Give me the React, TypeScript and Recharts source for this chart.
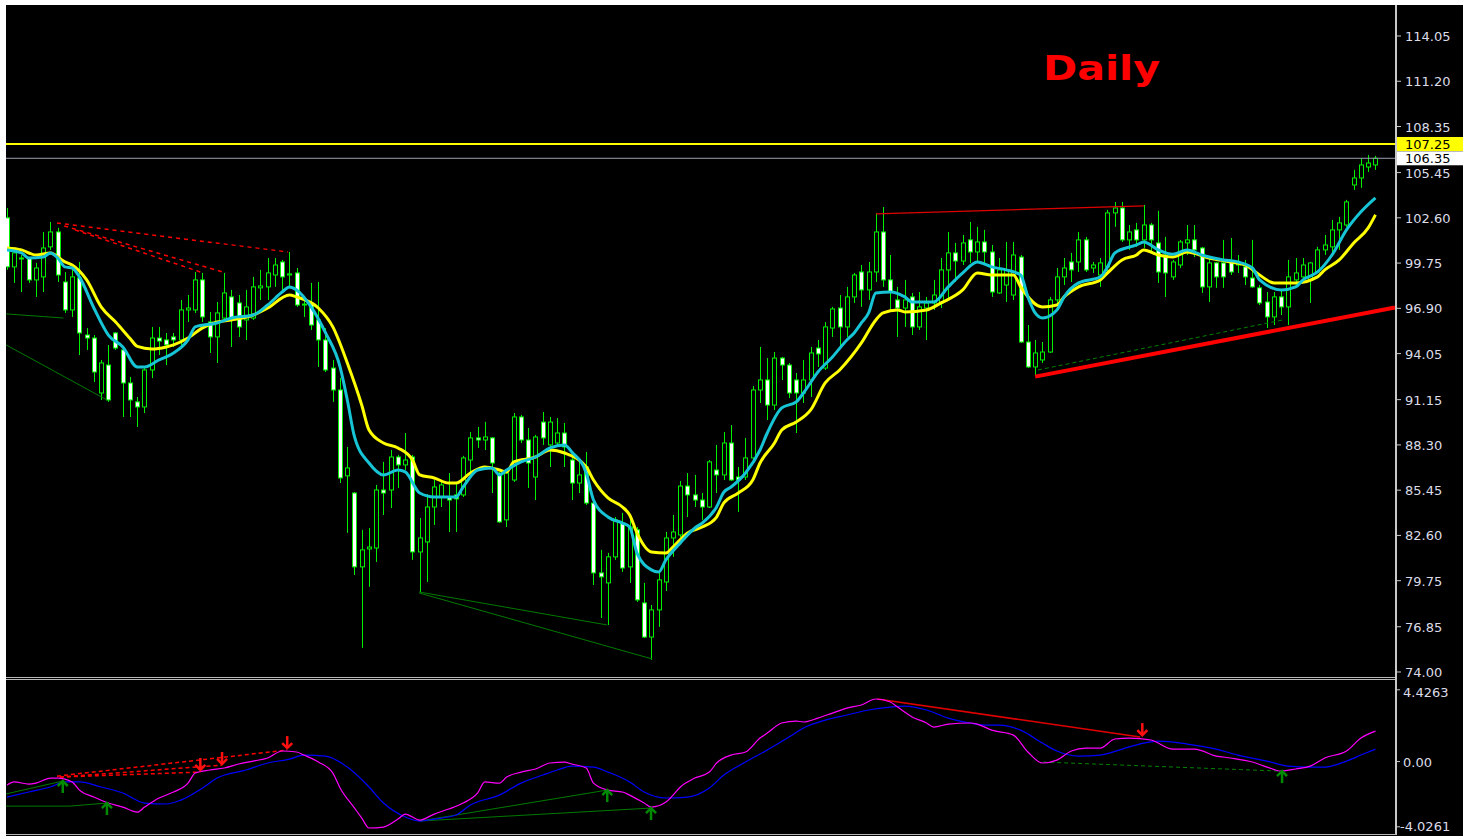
import React from "react";
import { ComposedChart, Bar, Line, XAxis, YAxis, ReferenceLine, ReferenceDot } from "recharts";

// Daily candles, oldest first
const opens = [
  102.6, 99.51, 100.07, 100.07, 98.69, 98.88, 100.77, 101.71, 98.56, 96.8,
  98.81, 95.22, 95.03, 91.57, 93.33, 95.35, 94.28, 92.2, 91.01, 90.69,
  93.02, 95.03, 94.91, 95.1, 94.91, 96.8, 96.8, 98.69, 96.04, 95.1,
  96.29, 97.62, 97.24, 96.17, 96.29, 98.19, 98.25, 99.0, 99.82, 99.0,
  99.13, 97.11, 97.24, 96.17, 94.91, 93.14, 91.76, 86.35, 85.27, 80.62,
  81.75, 81.81, 85.46, 85.46, 87.54, 87.04, 87.54, 81.56, 82.19, 84.39,
  85.02, 85.02, 85.15, 85.15, 87.35, 88.74, 88.61, 88.74, 86.53, 83.58,
  86.09, 90.06, 88.61, 86.28, 89.74, 88.3, 88.42, 89.05, 87.35, 85.9,
  86.91, 84.64, 80.24, 79.61, 81.25, 83.39, 80.62, 82.95, 78.35, 76.2,
  77.91, 79.67, 82.44, 82.63, 85.71, 85.15, 84.83, 84.39, 86.72, 86.41,
  88.42, 86.28, 86.28, 87.48, 91.76, 92.39, 90.81, 93.77, 93.33, 92.39,
  91.57, 92.39, 94.4, 93.14, 95.66, 96.92, 95.73, 97.62, 99.19, 98.06,
  99.19, 101.71, 98.69, 97.43, 96.92, 97.62, 95.73, 96.92, 97.24, 97.24,
  99.32, 100.39, 99.88, 101.21, 100.45, 101.08, 100.45, 97.87, 98.37, 97.74,
  100.13, 94.78, 93.21, 93.65, 94.15, 97.43, 98.88, 99.82, 99.82, 101.21,
  99.44, 99.0, 99.51, 102.91, 103.22, 101.21, 101.84, 101.21, 102.15, 101.02,
  100.26, 98.88, 99.63, 101.02, 101.21, 100.7, 98.25, 99.76, 99.76, 99.82,
  99.63, 99.51, 98.81, 98.19, 97.3, 96.36, 97.62, 96.99, 98.69, 98.88,
  98.69, 99.19, 100.58, 100.77, 101.84, 102.15, 104.67, 105.11, 105.8, 105.93,
];
const highs = [
  103.22, 100.58, 100.26, 100.13, 99.76, 101.71, 102.34, 101.97, 99.19, 99.44,
  99.82, 95.66, 95.22, 93.65, 94.59, 95.41, 94.47, 92.58, 91.32, 93.14,
  95.73, 95.73, 95.35, 95.35, 97.43, 97.74, 99.19, 99.13, 96.67, 97.3,
  99.13, 98.06, 97.74, 98.06, 98.88, 99.32, 100.07, 100.07, 99.95, 100.45,
  99.44, 97.43, 98.5, 98.56, 95.66, 93.65, 92.52, 88.17, 85.33, 82.95,
  83.07, 85.78, 87.23, 87.98, 87.67, 89.05, 87.67, 83.7, 85.2, 86.09,
  85.97, 86.53, 85.9, 87.61, 89.11, 89.43, 89.75, 88.8, 86.6, 86.72,
  90.31, 90.19, 89.36, 88.93, 90.37, 90.06, 89.99, 89.68, 87.79, 87.35,
  87.86, 84.83, 81.69, 81.5, 83.76, 84.02, 83.76, 83.13, 79.61, 78.22,
  80.24, 82.82, 83.89, 86.03, 86.53, 86.41, 85.27, 87.35, 88.3, 89.11,
  89.55, 86.91, 88.74, 92.01, 94.47, 93.77, 94.15, 93.84, 93.46, 92.83,
  93.65, 94.47, 94.91, 96.04, 96.99, 97.74, 98.25, 99.13, 99.63, 99.82,
  102.91, 103.28, 100.26, 98.25, 98.69, 97.87, 97.93, 97.62, 98.69, 100.07,
  101.71, 101.02, 101.52, 102.34, 102.03, 101.84, 100.89, 100.07, 101.08, 101.08,
  100.26, 95.85, 94.91, 94.78, 97.62, 99.44, 100.07, 100.39, 101.71, 101.4,
  99.82, 100.07, 103.1, 103.6, 103.6, 102.15, 102.28, 103.41, 102.28, 103.04,
  101.4, 99.95, 101.21, 102.15, 102.15, 100.77, 100.13, 99.82, 101.21, 101.33,
  100.26, 99.95, 101.21, 98.37, 97.93, 97.93, 98.06, 99.95, 100.07, 100.07,
  99.82, 100.77, 101.52, 102.47, 102.66, 103.73, 105.62, 106.37, 106.56, 106.5,
];
const lows = [
  99.32, 98.5, 97.93, 98.5, 97.62, 97.93, 100.58, 98.56, 96.61, 96.36,
  93.96, 94.28, 92.26, 91.13, 91.01, 94.28, 90.06, 90.06, 89.43, 90.31,
  92.51, 93.96, 93.33, 94.47, 94.47, 96.04, 96.61, 96.04, 94.09, 93.46,
  96.04, 94.47, 95.1, 94.91, 96.17, 97.43, 97.43, 98.25, 97.87, 98.25,
  96.99, 96.36, 95.54, 93.21, 92.89, 91.01, 85.9, 82.76, 80.11, 75.52,
  79.36, 80.93, 83.89, 84.33, 85.59, 86.72, 81.06, 79.04, 79.67, 83.26,
  84.39, 82.82, 82.82, 85.02, 86.53, 88.11, 87.98, 85.27, 83.39, 83.13,
  85.97, 88.42, 85.59, 84.83, 88.3, 86.91, 88.17, 86.91, 84.83, 85.27,
  84.52, 79.48, 77.4, 76.96, 81.06, 80.3, 79.61, 78.41, 76.14, 74.76,
  76.84, 79.1, 81.25, 82.5, 83.76, 84.39, 83.58, 84.33, 85.27, 86.09,
  86.03, 84.08, 86.09, 87.35, 90.94, 89.87, 90.5, 92.39, 91.25, 89.05,
  90.94, 91.32, 93.21, 93.02, 95.1, 94.47, 95.1, 97.24, 96.99, 97.43,
  98.56, 98.25, 96.8, 95.1, 95.73, 95.22, 95.54, 94.91, 96.8, 96.92,
  97.43, 98.56, 99.63, 99.76, 99.82, 99.76, 97.62, 97.81, 97.3, 97.43,
  94.72, 93.14, 92.64, 93.46, 94.09, 97.11, 98.37, 98.56, 99.19, 99.19,
  99.13, 98.25, 99.0, 102.03, 101.08, 100.58, 100.77, 100.7, 100.39, 98.5,
  97.62, 98.69, 99.44, 100.26, 100.13, 97.87, 97.3, 98.19, 98.19, 99.0,
  99.13, 98.37, 98.19, 97.11, 95.66, 95.85, 96.48, 95.85, 98.37, 98.69,
  97.24, 99.13, 100.26, 100.45, 100.58, 102.03, 104.36, 104.49, 105.49, 105.62,
];
const closes = [
  99.51, 100.39, 100.01, 98.69, 99.44, 100.7, 101.71, 99.0, 96.8, 98.88,
  95.35, 95.03, 92.89, 93.46, 91.13, 94.4, 92.2, 91.13, 90.69, 93.02,
  95.03, 94.84, 94.6, 94.91, 96.8, 96.92, 98.69, 96.36, 95.1, 96.61,
  97.87, 96.29, 95.73, 96.99, 98.25, 98.31, 99.13, 99.63, 98.88, 99.07,
  97.11, 97.17, 95.85, 94.91, 93.02, 91.76, 86.22, 86.85, 80.62, 81.69,
  81.87, 85.46, 85.27, 87.54, 87.04, 87.35, 81.56, 82.44, 84.39, 85.65,
  85.78, 84.83, 84.9, 87.48, 88.74, 88.61, 88.8, 87.16, 83.45, 86.53,
  90.06, 88.61, 87.16, 88.8, 88.74, 89.74, 89.05, 88.17, 85.9, 86.41,
  84.64, 80.24, 79.99, 81.25, 83.58, 80.55, 83.13, 78.54, 76.2, 77.91,
  79.8, 82.44, 82.82, 85.71, 85.15, 84.83, 84.39, 87.23, 86.41, 88.42,
  86.09, 86.09, 87.48, 91.76, 92.39, 90.81, 93.77, 93.33, 91.57, 91.57,
  92.39, 94.09, 94.03, 95.73, 96.86, 95.73, 97.62, 99.0, 98.06, 99.19,
  101.71, 98.69, 97.93, 96.92, 97.43, 95.73, 96.99, 97.24, 97.74, 99.32,
  100.39, 99.88, 101.02, 100.45, 101.08, 100.45, 97.93, 99.32, 99.32, 100.26,
  94.78, 93.21, 94.09, 94.15, 97.43, 98.88, 99.44, 99.32, 101.21, 99.32,
  99.63, 99.76, 102.91, 103.22, 101.21, 101.71, 101.21, 102.15, 101.21, 99.19,
  99.13, 99.82, 101.08, 101.21, 100.58, 98.25, 99.76, 98.88, 98.88, 99.19,
  99.76, 98.88, 98.25, 97.24, 96.36, 97.62, 96.99, 98.88, 99.13, 99.63,
  99.76, 100.58, 100.89, 101.84, 102.28, 103.6, 105.11, 105.93, 106.05, 106.35,
];

// moving averages, [bar, price]
const fastMA = [
  [0, 100.58], [2, 100.39], [3, 100.07], [5, 100.13], [6, 100.39], [7, 100.07], [8, 99.51], [9, 99.44],
  [10, 98.88], [12, 96.92], [14, 95.22], [16, 94.47], [18, 93.21], [19, 93.21], [21, 93.65], [22, 93.84],
  [23, 94.09], [25, 94.91], [26, 95.73], [29, 95.98], [31, 96.29], [34, 96.48], [36, 97.11], [38, 97.93],
  [39, 98.25], [40, 98.06], [42, 96.99], [44, 95.35], [46, 93.21], [47, 91.13], [48, 88.8], [50, 87.16],
  [52, 86.41], [54, 86.72], [55, 86.6], [57, 85.27], [59, 85.02], [62, 85.02], [63, 85.65], [65, 86.72],
  [67, 86.85], [68, 86.41], [69, 86.72], [71, 87.23], [73, 87.54], [75, 88.11], [77, 88.3], [78, 87.86],
  [80, 86.53], [81, 84.83], [83, 83.76], [85, 83.38], [86, 83.13], [87, 81.5], [89, 80.43], [90, 80.3],
  [91, 81.06], [93, 82.13], [95, 83.07], [96, 83.38], [98, 84.39], [99, 85.33], [100, 85.65], [102, 86.53],
  [104, 87.98], [105, 89.05], [107, 90.63], [109, 91.01], [110, 91.57], [112, 92.89], [114, 93.84], [116, 94.91],
  [117, 95.35], [118, 95.98], [119, 96.61], [120, 97.87], [122, 97.93], [124, 97.62], [125, 97.3], [128, 97.3],
  [130, 98.25], [132, 99.13], [134, 99.82], [136, 99.51], [138, 99.32], [140, 99.0], [141, 97.62], [142, 96.61],
  [143, 96.29], [145, 96.8], [146, 97.62], [148, 98.5], [151, 98.88], [152, 99.51], [153, 100.39], [156, 100.89],
  [157, 101.08], [159, 100.58], [161, 100.3], [163, 100.58], [165, 100.26], [168, 99.95], [170, 99.82], [172, 99.44],
  [173, 98.69], [176, 98.06], [178, 98.25], [179, 98.69], [181, 99.19], [183, 100.26], [185, 101.84], [187, 102.98],
  [189, 103.86],
];
const slowMA = [
  [0, 100.7], [2, 100.58], [4, 100.26], [6, 100.39], [8, 99.82], [9, 99.63], [11, 98.69], [13, 96.99],
  [15, 96.04], [17, 95.0], [18, 94.5], [20, 94.34], [22, 94.47], [23, 94.6], [25, 95.03], [27, 95.67],
  [29, 96.04], [31, 96.17], [34, 96.48], [36, 96.92], [39, 97.74], [40, 97.62], [43, 96.92], [45, 95.73],
  [47, 93.46], [49, 90.8], [50, 89.24], [52, 88.42], [54, 88.11], [56, 87.35], [57, 86.41], [59, 86.22],
  [61, 85.9], [62, 85.9], [64, 86.53], [66, 86.91], [68, 86.72], [69, 86.6], [70, 87.23], [73, 87.54],
  [75, 87.98], [77, 87.79], [80, 86.91], [81, 86.09], [83, 84.96], [85, 84.39], [86, 83.89], [87, 82.76],
  [89, 81.56], [91, 81.5], [92, 81.88], [94, 82.76], [96, 83.13], [98, 83.76], [99, 84.65], [101, 85.27],
  [103, 86.09], [104, 87.16], [106, 88.42], [107, 89.24], [109, 89.74], [111, 90.5], [113, 92.2], [115, 93.02],
  [118, 94.72], [120, 96.17], [121, 96.61], [123, 96.8], [124, 96.67], [127, 96.8], [129, 97.24], [132, 98.06],
  [134, 99.13], [136, 99.0], [139, 99.0], [140, 98.25], [143, 96.99], [145, 97.11], [146, 97.62], [148, 98.25],
  [151, 98.69], [152, 99.13], [154, 99.95], [156, 100.26], [157, 100.58], [159, 100.26], [161, 100.13], [163, 100.45],
  [166, 100.07], [169, 99.82], [171, 99.63], [173, 99.0], [175, 98.5], [178, 98.5], [181, 98.88], [182, 99.32],
  [184, 99.95], [186, 101.02], [188, 101.97], [189, 102.79],
];

// oscillator pane, [bar, value]
const oscMain = [
  [0, -1.45], [1, -1.26], [3, -1.39], [4, -1.33], [6, -1.02], [7, -1.02], [9, -1.26], [10, -1.76],
  [12, -2.19], [14, -2.56], [16, -2.81], [18, -3.12], [19, -2.81], [21, -2.25], [23, -1.88], [25, -1.33],
  [26, -0.71], [28, -0.52], [30, -0.4], [32, -0.15], [34, 0.03], [36, 0.22], [38, 0.65], [40, 0.59],
  [41, 0.4], [43, -0.03], [45, -0.71], [46, -1.63], [48, -2.87], [49, -3.49], [50, -4.1], [52, -4.04],
  [54, -3.55], [55, -3.24], [57, -3.61], [59, -3.24], [61, -2.93], [63, -2.56], [65, -1.94], [66, -1.26],
  [68, -1.33], [69, -0.96], [71, -0.65], [73, -0.46], [75, -0.09], [77, -0.03], [78, -0.15], [80, -0.4],
  [81, -1.33], [83, -1.76], [85, -1.88], [86, -2.07], [88, -2.56], [89, -2.81], [91, -2.5], [92, -2.07],
  [93, -1.57], [95, -1.02], [97, -0.65], [98, -0.09], [100, 0.4], [102, 0.59], [104, 1.45], [105, 1.76],
  [107, 2.38], [109, 2.5], [110, 2.44], [112, 2.68], [114, 2.99], [116, 3.3], [118, 3.49], [120, 3.86],
  [122, 3.67], [123, 3.36], [125, 2.75], [127, 2.38], [128, 2.13], [130, 2.31], [133, 2.38], [134, 2.31],
  [136, 1.94], [139, 1.63], [141, 0.59], [143, -0.09], [145, 0.09], [147, 0.65], [149, 0.83], [151, 0.83],
  [153, 1.39], [155, 1.45], [158, 1.33], [161, 0.77], [164, 0.77], [167, 0.34], [169, 0.22], [172, -0.03],
  [174, -0.34], [176, -0.59], [178, -0.46], [180, -0.28], [182, 0.22], [185, 0.65], [187, 1.45], [189, 1.88],
];
const oscSignal = [
  [0, -2.19], [3, -1.88], [6, -1.57], [8, -1.26], [10, -1.26], [13, -1.57], [16, -1.94], [19, -2.56],
  [22, -2.62], [24, -2.38], [27, -1.63], [29, -1.02], [33, -0.52], [36, -0.09], [39, 0.15], [41, 0.4],
  [44, 0.34], [47, -0.34], [50, -1.57], [52, -2.56], [55, -3.42], [57, -3.67], [59, -3.55], [62, -3.3],
  [64, -2.68], [68, -2.07], [71, -1.33], [74, -0.83], [76, -0.52], [78, -0.28], [81, -0.34], [83, -0.65],
  [86, -1.26], [88, -1.88], [91, -2.25], [94, -2.19], [97, -1.63], [99, -0.83], [102, -0.03], [105, 0.71],
  [108, 1.51], [110, 2.07], [113, 2.56], [116, 2.87], [119, 3.18], [122, 3.36], [124, 3.42], [127, 3.18],
  [130, 2.68], [133, 2.38], [135, 2.25], [137, 2.25], [140, 1.94], [143, 1.14], [145, 0.65], [148, 0.34],
  [151, 0.4], [154, 0.77], [157, 1.14], [159, 1.26], [163, 1.08], [167, 0.77], [170, 0.4], [174, 0.03],
  [177, -0.28], [180, -0.34], [182, -0.34], [185, 0.03], [187, 0.4], [189, 0.77],
];

const priceTicks = [114.05, 111.2, 108.35, 105.45, 102.6, 99.75, 96.9, 94.05, 91.15, 88.3, 85.45, 82.6, 79.75, 76.85, 74.0];
const askPrice = 107.25;
const bidPrice = 106.35;
const oscTicks = [4.4263, 0, -4.0261];
const oscLabels = ["4.4263", "0.00", "-4.0261"];

// drawn objects on the price pane: [bar, price] end points
const supportLine = [[142, 92.6], [191.7, 96.95]];
const resistanceLine = [[120, 102.85], [157, 103.35]];
const greenDashPrice = [[142.4, 93.02], [176.2, 96.17]];
const greenPrice = [
  [[-0.14, 96.55], [7.8, 96.29]],
  [[-0.14, 94.6], [13.8, 91.13]],
  [[56.9, 79.04], [82.9, 76.96]],
  [[56.9, 78.98], [89.1, 74.82]],
];
const redDashPrice = [
  [[6.9, 102.28], [38.8, 100.45]],
  [[7.9, 102.09], [29.8, 99.19]],
  [[9.4, 101.84], [26.7, 99.19]],
];
// drawn objects on the oscillator pane
const greenOsc = [
  [[-0.14, -2.0], [7.7, -1.2]],
  [[-0.14, -2.75], [8.7, -2.75]],
  [[8.7, -2.75], [13.8, -2.56]],
  [[57, -3.67], [82.9, -1.76]],
  [[57, -3.67], [88.95, -2.87]],
];
const redOsc = [[120.2, 3.86], [156.5, 1.51]];
const greenDashOsc = [[143.1, -0.03], [175.8, -0.59]];
const redDashOsc = [
  [[7.3, -0.96], [26.7, -0.65]],
  [[7.3, -0.96], [29.7, -0.22]],
  [[6.9, -0.9], [38.7, 0.71]],
];
const upArrows = [[7.7, -1.2], [13.8, -2.56], [82.9, -1.76], [88.95, -2.87], [176.1, -0.59]];
const downArrows = [[26.7, -0.52], [29.7, -0.15], [38.7, 0.83], [156.8, 1.63]];

const X_DOMAIN: [number, number] = [-0.14, 191.7];

const priceRows = opens.map((o, i) => ({
  i, o, h: highs[i], l: lows[i], c: closes[i],
  range: [lows[i], highs[i]],
  fast: null as number | null,
  slow: null as number | null,
}));
fastMA.forEach(([i, v]) => { priceRows[i].fast = v; });
slowMA.forEach(([i, v]) => { priceRows[i].slow = v; });

const oscRows = opens.map((_, i) => ({ i, main: null as number | null, signal: null as number | null }));
oscMain.forEach(([i, v]) => { oscRows[i].main = v; });
oscSignal.forEach(([i, v]) => { oscRows[i].signal = v; });

const FONT = "'DejaVu Sans', Tahoma, sans-serif";

function Candle(props: any) {
  const { x, y, width, height } = props;
  const d = props.payload ?? props;
  if (d == null || d.h == null) return null;
  const top = Math.min(y, y + height);
  const span = Math.abs(height);
  const py = (v: number) => top + ((d.h - v) / (d.h - d.l || 1)) * span;
  const cx = Math.round(x + width / 2) + 0.5;
  const bTop = py(Math.max(d.o, d.c));
  const bBot = py(Math.min(d.o, d.c));
  const bull = d.c >= d.o;
  return (
    <g>
      <line x1={cx} x2={cx} y1={top} y2={top + span} stroke="#00f000" strokeWidth={1} />
      <rect x={cx - 2} y={bTop} width={4} height={Math.max(1, bBot - bTop)}
        fill={bull ? "#000" : "#ffffff"} stroke="#00f000" strokeWidth={1} />
    </g>
  );
}

function PriceTick(p: any) {
  const v = p.payload.value;
  const x = p.x;
  const y = p.y;
  if (v === askPrice || v === bidPrice) {
    const bg = v === askPrice ? "#ffff00" : "#ffffff";
    return (
      <g>
        <rect x={x + 1} y={y - 7} width={67} height={14} fill={bg} />
        <text x={x + 10} y={y + 5} fill="#000" fontSize={13} fontFamily={FONT}>{v.toFixed(2)}</text>
      </g>
    );
  }
  return (
    <g>
      <line x1={x + 2} x2={x + 6} y1={y} y2={y} stroke="#c8c8d0" />
      <text x={x + 10} y={y + 5} fill="#dcdce8" fontSize={13} fontFamily={FONT}>{v.toFixed(2)}</text>
    </g>
  );
}

function OscTick(p: any) {
  const v = p.payload.value;
  const k = oscTicks.indexOf(v);
  const lbl = k >= 0 ? oscLabels[k] : String(v);
  const y = p.y + (k === 0 ? 2 : k === 2 ? -1 : 0);
  return (
    <g>
      <line x1={p.x + 2} x2={p.x + 5} y1={p.y} y2={p.y} stroke="#c8c8d0" />
      <text x={p.x + (v < 0 ? 5 : 8)} y={y + 5} fill="#dcdce8" fontSize={13} fontFamily={FONT}>{lbl}</text>
    </g>
  );
}

const seg = (pts: number[][]) => [{ x: pts[0][0], y: pts[0][1] }, { x: pts[1][0], y: pts[1][1] }];

function UpArrow(p: any) {
  const { cx, cy } = p;
  return (
    <g stroke="#008a00" strokeWidth={2.5} fill="none">
      <line x1={cx} x2={cx} y1={cy} y2={cy + 12} />
      <polyline points={`${cx - 5},${cy + 5} ${cx},${cy} ${cx + 5},${cy + 5}`} />
    </g>
  );
}

function DownArrow(p: any) {
  const { cx, cy } = p;
  return (
    <g stroke="#ff1010" strokeWidth={2.5} fill="none">
      <line x1={cx} x2={cx} y1={cy - 12} y2={cy} />
      <polyline points={`${cx - 5},${cy - 5} ${cx},${cy} ${cx + 5},${cy - 5}`} />
    </g>
  );
}

export default function App() {
  return (
    <div style={{ position: "absolute", left: 0, top: 0, width: 1475, height: 836, background: "#fff", overflow: "hidden" }}>
      <div style={{ position: "absolute", left: 6, top: 5, width: 1457, height: 831, background: "#000" }}>
        <ComposedChart width={1457} height={676} data={priceRows} margin={{ top: 0, right: 0, bottom: 4, left: 0 }}>
          <XAxis dataKey="i" type="number" domain={X_DOMAIN} hide allowDataOverflow />
          <YAxis orientation="right" width={68} domain={[73.685, 116.002]} allowDataOverflow
            ticks={[...priceTicks, askPrice, bidPrice]} interval={0} tickSize={0} tickMargin={0}
            axisLine={false} tickLine={false} tick={PriceTick} />
          <ReferenceLine y={askPrice} stroke="#ffff00" strokeWidth={2} />
          <ReferenceLine y={bidPrice} stroke="#9aa0b4" strokeWidth={1} />
          {greenPrice.map((s, k) => (
            <ReferenceLine key={"gp" + k} segment={seg(s)} stroke="#007a00" strokeWidth={1} ifOverflow="visible" />
          ))}
          {redDashPrice.map((s, k) => (
            <ReferenceLine key={"rp" + k} segment={seg(s)} stroke="#ff0000" strokeWidth={1.5} strokeDasharray="4 4" ifOverflow="visible" />
          ))}
          <ReferenceLine segment={seg(resistanceLine)} stroke="#e00000" strokeWidth={1.2} ifOverflow="visible" />
          <ReferenceLine segment={seg(greenDashPrice)} stroke="#008000" strokeWidth={1} strokeDasharray="4 3" ifOverflow="visible" />
          <Bar dataKey="range" barSize={5} shape={Candle} isAnimationActive={false} />
          <Line dataKey="slow" type="monotone" stroke="#ffff00" strokeWidth={3} dot={false} connectNulls isAnimationActive={false} />
          <Line dataKey="fast" type="monotone" stroke="#16c4d6" strokeWidth={3} dot={false} connectNulls isAnimationActive={false} />
          <ReferenceLine segment={seg(supportLine)} stroke="#ff0000" strokeWidth={4} ifOverflow="visible" />
        </ComposedChart>

        <div style={{ position: "absolute", left: 0, top: 672, width: 1390, height: 1, background: "#b8b8b8" }} />
        <div style={{ position: "absolute", left: 0, top: 674, width: 1390, height: 1, background: "#b8b8b8" }} />
        <div style={{ position: "absolute", left: 1389, top: 0, width: 2, height: 830, background: "#c8c8c8" }} />
        <div style={{ position: "absolute", left: 0, top: 829, width: 1390, height: 1, background: "#b8b8b8" }} />

        <div style={{ position: "absolute", left: 0, top: 676 }}>
          <ComposedChart width={1457} height={155} data={oscRows} margin={{ top: 0, right: 0, bottom: 2, left: 0 }}>
            <XAxis dataKey="i" type="number" domain={X_DOMAIN} hide allowDataOverflow />
            <YAxis orientation="right" width={68} domain={[-4.47, 4.97]} allowDataOverflow
              ticks={oscTicks} interval={0} tickSize={0} tickMargin={0}
              axisLine={false} tickLine={false} tick={OscTick} />
            {greenOsc.map((s, k) => (
              <ReferenceLine key={"go" + k} segment={seg(s)} stroke="#007a00" strokeWidth={1} ifOverflow="visible" />
            ))}
            {redDashOsc.map((s, k) => (
              <ReferenceLine key={"ro" + k} segment={seg(s)} stroke="#ff0000" strokeWidth={1.5} strokeDasharray="4 3" ifOverflow="visible" />
            ))}
            <ReferenceLine segment={seg(greenDashOsc)} stroke="#008000" strokeWidth={1} strokeDasharray="4 3" ifOverflow="visible" />
            <ReferenceLine segment={seg(redOsc)} stroke="#e00000" strokeWidth={1.5} ifOverflow="visible" />
            <Line dataKey="signal" type="monotone" stroke="#0000ff" strokeWidth={1.2} dot={false} connectNulls isAnimationActive={false} />
            <Line dataKey="main" type="monotone" stroke="#ff00ff" strokeWidth={1.2} dot={false} connectNulls isAnimationActive={false} />
            {upArrows.map(([x, y], k) => (
              <ReferenceDot key={"ua" + k} x={x} y={y} r={5} shape={UpArrow} ifOverflow="visible" />
            ))}
            {downArrows.map(([x, y], k) => (
              <ReferenceDot key={"da" + k} x={x} y={y} r={5} shape={DownArrow} ifOverflow="visible" />
            ))}
          </ComposedChart>
        </div>

        <svg style={{ position: "absolute", left: 0, top: 0 }} width={1300} height={100}>
          <text x={1037} y={75} fill="#ff0000" fontSize={34} fontWeight="bold" fontFamily={FONT}
            textLength={117} lengthAdjust="spacingAndGlyphs">Daily</text>
        </svg>
      </div>
    </div>
  );
}
